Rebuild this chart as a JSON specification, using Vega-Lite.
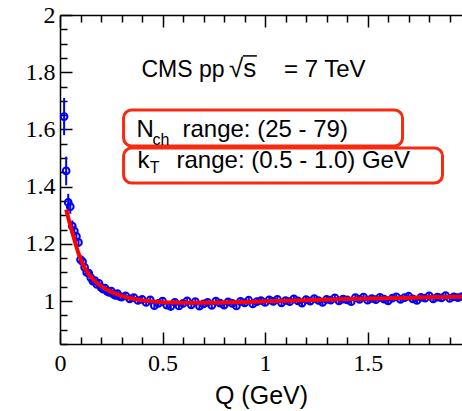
{
  "$schema": "https://vega.github.io/schema/vega-lite/v6.json",
  "autosize": "none",
  "padding": {"left": 60, "top": 15, "right": 0, "bottom": 67},
  "width": 402,
  "height": 329,
  "background": "white",
  "config": {"view": {"stroke": null}},
  "datasets": {
    "pts": [
      {"Q":0.02,"R":1.645,"e":0.065},{"Q":0.03,"R":1.455,"e":0.05},{"Q":0.04,"R":1.345,"e":0.03},{"Q":0.05,"R":1.33,"e":0.025},
      {"Q":0.06,"R":1.262,"e":0.02},{"Q":0.07,"R":1.245,"e":0.018},{"Q":0.08,"R":1.226,"e":0.016},{"Q":0.09,"R":1.205,"e":0.015},
      {"Q":0.10,"R":1.145,"e":0.014},{"Q":0.11,"R":1.138,"e":0.013},{"Q":0.12,"R":1.118,"e":0.013},{"Q":0.13,"R":1.100,"e":0.013},
      {"Q":0.14,"R":1.098,"e":0.012},{"Q":0.15,"R":1.082,"e":0.012},{"Q":0.16,"R":1.070,"e":0.012},{"Q":0.17,"R":1.072,"e":0.012},
      {"Q":0.18,"R":1.058,"e":0.012},{"Q":0.19,"R":1.062,"e":0.012},{"Q":0.20,"R":1.048,"e":0.012},{"Q":0.21,"R":1.042,"e":0.012},
      {"Q":0.22,"R":1.045,"e":0.012},{"Q":0.23,"R":1.034,"e":0.012},{"Q":0.24,"R":1.030,"e":0.012},{"Q":0.25,"R":1.035,"e":0.012},
      {"Q":0.26,"R":1.024,"e":0.012},{"Q":0.27,"R":1.020,"e":0.012},{"Q":0.28,"R":1.026,"e":0.012},{"Q":0.29,"R":1.016,"e":0.012},
      {"Q":0.30,"R":1.014,"e":0.012},{"Q":0.32,"R":1.018,"e":0.012},{"Q":0.34,"R":1.008,"e":0.012},{"Q":0.36,"R":1.012,"e":0.012},
      {"Q":0.38,"R":1.002,"e":0.012},{"Q":0.40,"R":1.006,"e":0.012},{"Q":0.42,"R":0.995,"e":0.012},{"Q":0.44,"R":1.004,"e":0.012},
      {"Q":0.46,"R":0.984,"e":0.012},{"Q":0.48,"R":0.992,"e":0.012},{"Q":0.50,"R":1.000,"e":0.012},{"Q":0.52,"R":0.986,"e":0.012},
      {"Q":0.54,"R":0.981,"e":0.012},{"Q":0.56,"R":0.996,"e":0.012},{"Q":0.58,"R":0.983,"e":0.012},{"Q":0.60,"R":0.992,"e":0.012},
      {"Q":0.62,"R":1.001,"e":0.012},{"Q":0.64,"R":0.987,"e":0.012},{"Q":0.66,"R":0.998,"e":0.012},{"Q":0.68,"R":0.982,"e":0.012},
      {"Q":0.70,"R":0.990,"e":0.012},{"Q":0.72,"R":0.996,"e":0.012},{"Q":0.74,"R":0.985,"e":0.012},{"Q":0.76,"R":1.000,"e":0.012},
      {"Q":0.78,"R":0.993,"e":0.012},{"Q":0.80,"R":0.986,"e":0.012},{"Q":0.82,"R":0.997,"e":0.012},{"Q":0.84,"R":0.992,"e":0.012},
      {"Q":0.86,"R":0.983,"e":0.012},{"Q":0.88,"R":0.999,"e":0.012},{"Q":0.90,"R":0.994,"e":0.012},{"Q":0.92,"R":1.003,"e":0.012},
      {"Q":0.94,"R":0.990,"e":0.012},{"Q":0.96,"R":0.998,"e":0.012},{"Q":0.98,"R":1.002,"e":0.012},{"Q":1.00,"R":0.995,"e":0.012},
      {"Q":1.02,"R":1.004,"e":0.012},{"Q":1.04,"R":0.999,"e":0.012},{"Q":1.06,"R":1.006,"e":0.012},{"Q":1.08,"R":0.994,"e":0.012},
      {"Q":1.10,"R":1.002,"e":0.012},{"Q":1.12,"R":0.998,"e":0.012},{"Q":1.14,"R":1.008,"e":0.012},{"Q":1.16,"R":1.001,"e":0.012},
      {"Q":1.18,"R":0.993,"e":0.012},{"Q":1.20,"R":1.005,"e":0.012},{"Q":1.22,"R":1.000,"e":0.012},{"Q":1.24,"R":1.009,"e":0.012},
      {"Q":1.26,"R":1.002,"e":0.012},{"Q":1.28,"R":0.995,"e":0.012},{"Q":1.30,"R":1.006,"e":0.012},{"Q":1.32,"R":1.003,"e":0.012},
      {"Q":1.34,"R":1.011,"e":0.012},{"Q":1.36,"R":1.001,"e":0.012},{"Q":1.38,"R":1.007,"e":0.012},{"Q":1.40,"R":1.004,"e":0.012},
      {"Q":1.42,"R":0.998,"e":0.012},{"Q":1.44,"R":1.012,"e":0.012},{"Q":1.46,"R":1.006,"e":0.012},{"Q":1.48,"R":1.014,"e":0.012},
      {"Q":1.50,"R":1.003,"e":0.012},{"Q":1.52,"R":1.009,"e":0.012},{"Q":1.54,"R":1.005,"e":0.012},{"Q":1.56,"R":1.013,"e":0.012},
      {"Q":1.58,"R":1.007,"e":0.012},{"Q":1.60,"R":1.001,"e":0.012},{"Q":1.62,"R":1.010,"e":0.012},{"Q":1.64,"R":1.015,"e":0.012},
      {"Q":1.66,"R":1.006,"e":0.012},{"Q":1.68,"R":1.012,"e":0.012},{"Q":1.70,"R":1.017,"e":0.012},{"Q":1.72,"R":1.008,"e":0.012},
      {"Q":1.74,"R":1.002,"e":0.012},{"Q":1.76,"R":1.013,"e":0.012},{"Q":1.78,"R":1.010,"e":0.012},{"Q":1.80,"R":1.018,"e":0.012},
      {"Q":1.82,"R":1.008,"e":0.012},{"Q":1.84,"R":1.014,"e":0.012},{"Q":1.86,"R":1.011,"e":0.012},{"Q":1.88,"R":1.019,"e":0.012},
      {"Q":1.90,"R":1.009,"e":0.012},{"Q":1.92,"R":1.015,"e":0.012},{"Q":1.94,"R":1.012,"e":0.012},{"Q":1.96,"R":1.016,"e":0.012}
    ],
    "fit": [
      {"Q":0.03,"R":1.32},{"Q":0.04,"R":1.292},{"Q":0.05,"R":1.265},{"Q":0.06,"R":1.24},{"Q":0.07,"R":1.215},
      {"Q":0.08,"R":1.19},{"Q":0.09,"R":1.167},{"Q":0.10,"R":1.148},{"Q":0.11,"R":1.131},{"Q":0.12,"R":1.116},
      {"Q":0.14,"R":1.094},{"Q":0.16,"R":1.077},{"Q":0.18,"R":1.063},{"Q":0.20,"R":1.052},{"Q":0.23,"R":1.039},
      {"Q":0.26,"R":1.029},{"Q":0.30,"R":1.018},{"Q":0.35,"R":1.009},{"Q":0.40,"R":1.003},{"Q":0.45,"R":0.999},
      {"Q":0.50,"R":0.996},{"Q":0.60,"R":0.994},{"Q":0.70,"R":0.994},{"Q":0.80,"R":0.995},{"Q":0.90,"R":0.997},
      {"Q":1.00,"R":0.999},{"Q":1.20,"R":1.003},{"Q":1.40,"R":1.007},{"Q":1.60,"R":1.010},{"Q":1.80,"R":1.013},
      {"Q":1.96,"R":1.015}
    ],
    "boxes": [
      {"xa":0.310,"xb":1.670,"ya":1.668,"yb":1.542},
      {"xa":0.310,"xb":1.865,"ya":1.535,"yb":1.413}
    ],
    "overbar": [
      {"xa":0.892,"xb":0.960,"y":1.857}
    ],
    "cmstext": [
      {"Q":0.397,"R":1.783,"t":"CMS pp"}
    ],
    "sqrttext": [
      {"Q":0.824,"R":1.783,"t":"√s"}
    ],
    "labels": [
      {"Q":1.092,"R":1.783,"t":"= 7 TeV"},
      {"Q":0.373,"R":1.574,"t":"N"},
      {"Q":0.597,"R":1.574,"t":"range: (25 - 79)"},
      {"Q":0.378,"R":1.465,"t":"k"},
      {"Q":0.568,"R":1.465,"t":"range: (0.5 - 1.0) GeV"}
    ],
    "subs": [
      {"Q":0.451,"R":1.546,"t":"ch"},
      {"Q":0.437,"R":1.448,"t":"T"}
    ]
  },
  "layer": [
    {
      "data": {"name": "pts"},
      "mark": {"type": "errorbar", "ticks": false, "color": "#0000ff", "thickness": 2},
      "encoding": {
        "x": {"field": "Q", "type": "quantitative", "axis": null, "scale": {"domain": [0, 1.96], "nice": false, "zero": false}},
        "y": {"field": "R", "type": "quantitative", "axis": null, "scale": {"domain": [0.85, 2], "nice": false, "zero": false}},
        "yError": {"field": "e"}
      }
    },
    {
      "data": {"name": "pts"},
      "mark": {"type": "point", "shape": "circle", "filled": false, "color": "#0000ff", "size": 45, "strokeWidth": 2, "opacity": 1},
      "encoding": {
        "x": {"field": "Q", "type": "quantitative", "scale": {"domain": [0, 1.96], "nice": false, "zero": false},
          "axis": {
            "orient": "bottom",
            "values": [0,0.1,0.2,0.3,0.4,0.5,0.6,0.7,0.8,0.9,1,1.1,1.2,1.3,1.4,1.5,1.6,1.7,1.8,1.9],
            "labelExpr": "abs(datum.value*2 - round(datum.value*2)) < 0.001 ? format(datum.value, '~g') : ''",
            "tickSize": {"condition": {"test": "abs(datum.value*2 - round(datum.value*2)) < 0.001", "value": -12}, "value": -7},
            "labelPadding": 19,
            "labelFlush": false,
            "labelOverlap": false,
            "labelFont": "Liberation Serif", "labelFontSize": 24, "labelColor": "black",
            "domainColor": "black", "domainWidth": 1.5, "tickColor": "black", "tickWidth": 1.5,
            "grid": false,
            "title": "Q (GeV)", "titleFont": "Liberation Sans", "titleFontSize": 25, "titleFontWeight": "normal", "titleColor": "black", "titlePadding": 3
          }
        },
        "y": {"field": "R", "type": "quantitative", "scale": {"domain": [0.85, 2], "nice": false, "zero": false},
          "axis": {
            "orient": "left",
            "values": [0.85,0.9,0.95,1,1.05,1.1,1.15,1.2,1.25,1.3,1.35,1.4,1.45,1.5,1.55,1.6,1.65,1.7,1.75,1.8,1.85,1.9,1.95,2],
            "labelExpr": "abs(datum.value*5 - round(datum.value*5)) < 0.001 ? format(datum.value, '~g') : ''",
            "tickSize": {"condition": {"test": "abs(datum.value*5 - round(datum.value*5)) < 0.001", "value": -12}, "value": -7},
            "labelPadding": 17,
            "labelFlush": false,
            "labelOverlap": false,
            "labelFont": "Liberation Serif", "labelFontSize": 24, "labelColor": "black",
            "domainColor": "black", "domainWidth": 1.5, "tickColor": "black", "tickWidth": 1.5,
            "grid": false,
            "title": null
          }
        }
      }
    },
    {
      "data": {"name": "fit"},
      "mark": {"type": "line", "color": "#ff0000", "strokeWidth": 4},
      "encoding": {
        "x": {"field": "Q", "type": "quantitative",
          "axis": {
            "orient": "top",
            "values": [0,0.1,0.2,0.3,0.4,0.5,0.6,0.7,0.8,0.9,1,1.1,1.2,1.3,1.4,1.5,1.6,1.7,1.8,1.9],
            "labels": false,
            "tickSize": {"condition": {"test": "abs(datum.value*2 - round(datum.value*2)) < 0.001", "value": -12}, "value": -7},
            "domainColor": "black", "domainWidth": 1.5, "tickColor": "black", "tickWidth": 1.5,
            "grid": false, "title": null
          }
        },
        "y": {"field": "R", "type": "quantitative", "axis": null}
      }
    },
    {
      "data": {"name": "boxes"},
      "mark": {"type": "rect", "fill": null, "fillOpacity": 0, "stroke": "#f52a10", "strokeWidth": 3, "cornerRadius": 8},
      "encoding": {
        "x": {"field": "xa", "type": "quantitative", "axis": null},
        "x2": {"field": "xb"},
        "y": {"field": "ya", "type": "quantitative", "axis": null},
        "y2": {"field": "yb"}
      }
    },
    {
      "data": {"name": "cmstext"},
      "mark": {"type": "text", "align": "left", "baseline": "alphabetic", "font": "Liberation Sans", "fontSize": 23, "color": "black"},
      "encoding": {
        "x": {"field": "Q", "type": "quantitative", "axis": null},
        "y": {"field": "R", "type": "quantitative", "axis": null},
        "text": {"field": "t"}
      }
    },
    {
      "data": {"name": "sqrttext"},
      "mark": {"type": "text", "align": "left", "baseline": "alphabetic", "font": "Liberation Sans", "fontSize": 26, "color": "black"},
      "encoding": {
        "x": {"field": "Q", "type": "quantitative", "axis": null},
        "y": {"field": "R", "type": "quantitative", "axis": null},
        "text": {"field": "t"}
      }
    },
    {
      "data": {"name": "overbar"},
      "mark": {"type": "rule", "color": "black", "strokeWidth": 1.5},
      "encoding": {
        "x": {"field": "xa", "type": "quantitative", "axis": null},
        "x2": {"field": "xb"},
        "y": {"field": "y", "type": "quantitative", "axis": null}
      }
    },
    {
      "data": {"name": "labels"},
      "mark": {"type": "text", "align": "left", "baseline": "alphabetic", "font": "Liberation Sans", "fontSize": 24, "color": "black"},
      "encoding": {
        "x": {"field": "Q", "type": "quantitative", "axis": null},
        "y": {"field": "R", "type": "quantitative", "axis": null},
        "text": {"field": "t"}
      }
    },
    {
      "data": {"name": "subs"},
      "mark": {"type": "text", "align": "left", "baseline": "alphabetic", "font": "Liberation Sans", "fontSize": 16, "color": "black"},
      "encoding": {
        "x": {"field": "Q", "type": "quantitative", "axis": null},
        "y": {"field": "R", "type": "quantitative", "axis": null},
        "text": {"field": "t"}
      }
    }
  ],
  "resolve": {"axis": {"x": "independent", "y": "independent"}}
}
